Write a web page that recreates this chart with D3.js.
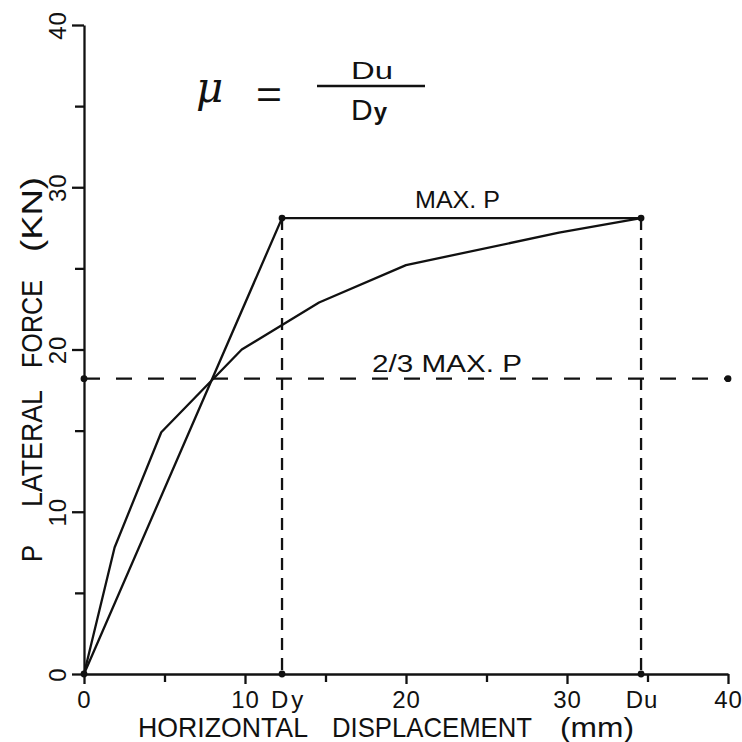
<!DOCTYPE html>
<html>
<head>
<meta charset="utf-8">
<script src="https://cdn.jsdelivr.net/npm/d3@7"></script>
<style>
  html, body { margin: 0; padding: 0; background: #fff; }
  svg { display: block; }
  text { font-family: "Liberation Sans", Arial, sans-serif; fill: #111; }
</style>
</head>
<body>
<script>
// Load–displacement curve of the specimen (mm, kN)
const curveDisp  = [0, 1.9, 4.8, 9.8, 14.6, 20.0, 29.5, 34.6];
const curveForce = [0, 7.8, 14.9, 20.0, 22.9, 25.2, 27.2, 28.1];

// Idealised bilinear envelope and reference levels
const yieldDisp = 12.3;      // Dy
const ultDisp = 34.6;        // Du
const maxForce = 28.1;       // MAX. P
const levelForce = 18.2;     // 2/3 MAX. P line

// Axis ticks
const majorTicks = [0, 10, 20, 30, 40];
const minorTicks = [5, 15, 25, 35];

const W = 742, H = 742;
const svg = d3.select("body").append("svg").attr("width", W).attr("height", H);

const x = d3.scaleLinear().domain([0, 40]).range([84, 728]);
const y = d3.scaleLinear().domain([0, 40]).range([674, 25]);

const ink = "#111";
const sw = 2.3;
const tickFont = "24px";

// ---- axes ----
const xAxisG = svg.append("g").attr("transform", `translate(0,${y(0)})`)
  .call(d3.axisBottom(x).tickValues(majorTicks).tickSize(10).tickSizeOuter(0).tickFormat(d3.format("d")));
xAxisG.select(".domain").attr("stroke", ink).attr("stroke-width", sw);
xAxisG.selectAll(".tick line").attr("stroke", ink).attr("stroke-width", sw);
xAxisG.selectAll(".tick text").attr("y", 34).attr("dy", 0)
  .style("font-size", tickFont).style("letter-spacing", "1px").attr("fill", ink);

const xMinorG = svg.append("g").attr("transform", `translate(0,${y(0)})`)
  .call(d3.axisBottom(x).tickValues(minorTicks).tickSize(8).tickFormat(""));
xMinorG.select(".domain").remove();
xMinorG.selectAll(".tick line").attr("stroke", ink).attr("stroke-width", sw);

const yAxisG = svg.append("g").attr("transform", `translate(${x(0)},0)`)
  .call(d3.axisLeft(y).tickValues(majorTicks).tickSize(12).tickSizeOuter(0).tickFormat(d3.format("d")));
yAxisG.select(".domain").attr("stroke", ink).attr("stroke-width", sw);
yAxisG.selectAll(".tick line").attr("stroke", ink).attr("stroke-width", sw);
yAxisG.selectAll(".tick text")
  .attr("x", 0).attr("y", -18).attr("dy", 0)
  .attr("text-anchor", "middle")
  .attr("transform", "rotate(-90)")
  .style("font-size", tickFont).style("letter-spacing", "1px").attr("fill", ink);

const yMinorG = svg.append("g").attr("transform", `translate(${x(0)},0)`)
  .call(d3.axisLeft(y).tickValues(minorTicks).tickSize(9).tickFormat(""));
yMinorG.select(".domain").remove();
yMinorG.selectAll(".tick line").attr("stroke", ink).attr("stroke-width", sw);

svg.selectAll(".tick text").attr("font-family", "Liberation Sans, Arial, sans-serif");

// ---- dashed guides ----
const guides = svg.append("g").attr("stroke", ink).attr("stroke-width", sw).attr("fill", "none");
guides.append("line")
  .attr("x1", x(0)).attr("x2", x(40))
  .attr("y1", y(levelForce)).attr("y2", y(levelForce))
  .attr("stroke-dasharray", "16 16");
[yieldDisp, ultDisp].forEach(d => {
  guides.append("line")
    .attr("x1", x(d)).attr("x2", x(d))
    .attr("y1", y(maxForce)).attr("y2", y(0))
    .attr("stroke-dasharray", "12 8");
});

// ---- bilinear envelope ----
const line = d3.line().x(d => x(d[0])).y(d => y(d[1]));
const envelope = [[0, 0], [yieldDisp, maxForce], [ultDisp, maxForce]];
svg.append("path").datum(envelope).attr("d", line)
  .attr("fill", "none").attr("stroke", ink).attr("stroke-width", sw);

// ---- measured curve ----
const curve = curveDisp.map((d, i) => [d, curveForce[i]]);
svg.append("path").datum(curve).attr("d", line)
  .attr("fill", "none").attr("stroke", ink).attr("stroke-width", sw)
  .attr("stroke-linejoin", "round");

// ---- marker dots ----
const dots = [
  [0, 0], [yieldDisp, maxForce], [ultDisp, maxForce],
  [yieldDisp, 0], [ultDisp, 0], [0, levelForce], [40, levelForce]
];
svg.append("g").selectAll("circle").data(dots).join("circle")
  .attr("cx", d => x(d[0])).attr("cy", d => y(d[1])).attr("r", 3.4).attr("fill", ink);

// ---- Dy / Du labels on the displacement axis ----
svg.append("text").attr("x", x(yieldDisp) - 11).attr("y", 708)
  .style("font-size", tickFont).style("letter-spacing", "3px").text("Dy");
svg.append("text").attr("x", x(ultDisp) + 1).attr("y", 708).attr("text-anchor", "middle")
  .style("font-size", tickFont).style("letter-spacing", "1px").text("Du");

// ---- annotations ----
svg.append("text").attr("x", 415).attr("y", 208).style("font-size", "23px")
  .attr("textLength", 85).attr("lengthAdjust", "spacingAndGlyphs").text("MAX. P");
svg.append("text").attr("x", 372).attr("y", 372).style("font-size", "23px")
  .attr("textLength", 150).attr("lengthAdjust", "spacingAndGlyphs").text("2/3  MAX.  P");

// ---- axis titles ----
function word(txt, x0, x1, yb, size) {
  svg.append("text").attr("x", x0).attr("y", yb).style("font-size", size + "px")
    .attr("textLength", x1 - x0).attr("lengthAdjust", "spacingAndGlyphs").text(txt);
}
word("HORIZONTAL", 138, 308, 737, 28);
word("DISPLACEMENT", 332, 532, 737, 28);
word("(mm)", 560, 634, 737, 28);

function vword(txt, yBottom, yTop, xb, size) {
  svg.append("text")
    .attr("transform", `translate(${xb},${yBottom}) rotate(-90)`)
    .style("font-size", size + "px")
    .attr("textLength", yBottom - yTop).attr("lengthAdjust", "spacingAndGlyphs").text(txt);
}
vword("P", 562, 545, 42, 30);
vword("LATERAL", 507, 390, 42, 30);
vword("FORCE", 368, 280, 42, 30);
vword("(KN)", 252, 177, 42, 30);

// ---- ductility ratio ----
svg.append("text").attr("x", 196).attr("y", 102)
  .style("font-family", "DejaVu Serif, serif").style("font-style", "italic")
  .style("font-size", "42px").text("\u03bc");
svg.append("text").attr("x", 256).attr("y", 108)
  .style("font-size", "38px").attr("textLength", 26).attr("lengthAdjust", "spacingAndGlyphs").text("=");
svg.append("line").attr("x1", 317).attr("x2", 425).attr("y1", 86).attr("y2", 86)
  .attr("stroke", ink).attr("stroke-width", sw);
svg.append("text").attr("x", 351).attr("y", 79).style("font-size", "24px")
  .attr("textLength", 42).attr("lengthAdjust", "spacingAndGlyphs").text("Du");
const dy = svg.append("text").attr("x", 351).attr("y", 120).style("font-size", "30px");
dy.append("tspan").text("D");
dy.append("tspan").style("font-size", "24px").style("font-weight", "bold").attr("dx", 1).text("y");
</script>
</body>
</html>
